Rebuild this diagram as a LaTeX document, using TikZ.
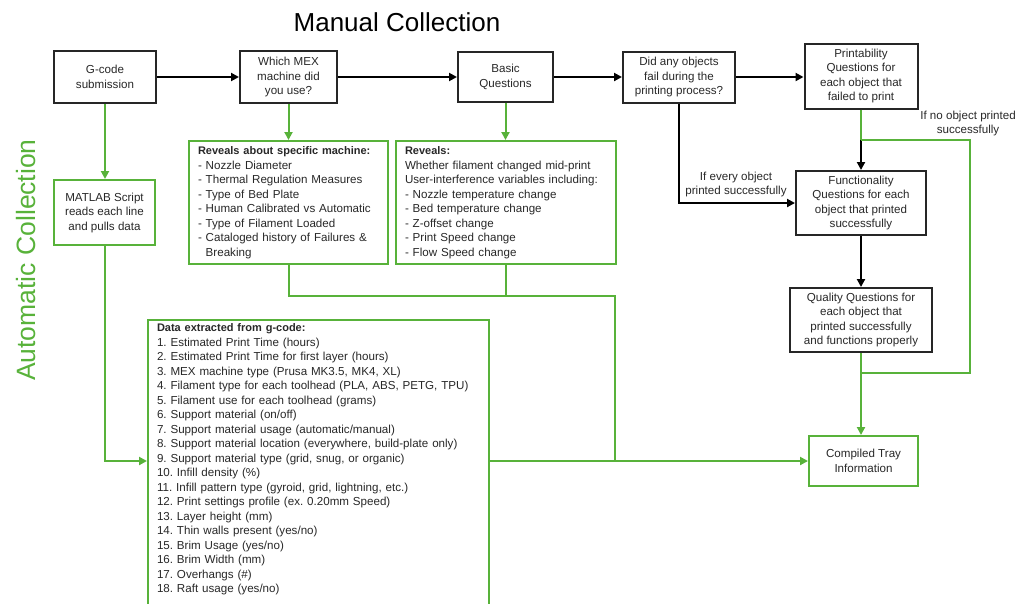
\documentclass[tikz,border=0pt]{standalone}
\usepackage{fontspec}
\setmainfont{Liberation Sans}
\usetikzlibrary{arrows.meta,calc}
\definecolor{grn}{RGB}{88,178,58}
\definecolor{txt}{RGB}{40,40,40}
\frenchspacing
\newcommand{\hdr}[1]{\mbox{\fontsize{11}{14.5}\selectfont\bfseries #1}}
\begin{document}
\begin{tikzpicture}[x=1pt,y=-1pt,
  font=\fontsize{11.6}{14.5}\selectfont,
  bbox/.style={draw=black!85, line width=2pt, fill=white, text=txt, align=center, inner sep=0pt},
  gbox/.style={draw=grn, line width=2pt, fill=white, text=txt, align=center, inner sep=0pt},
  lbox/.style={draw=grn, line width=2pt, fill=white, text=txt, align=left, inner xsep=9pt, inner ysep=5pt},
  blk/.style={draw=black, line width=2pt, -{Triangle[length=8pt,width=8pt]}},
  gln/.style={draw=grn, line width=2pt},
  garr/.style={gln, -{Triangle[length=8pt,width=8pt]}},
  lbl/.style={text=txt, align=center, inner sep=0pt}]
\useasboundingbox (0,0) rectangle (1024,603);
\clip (0,0) rectangle (1024,603);

% titles
\node[font=\fontsize{26}{30}\selectfont, inner sep=0pt] (title) at (397,22) {Manual Collection};
\node[font=\fontsize{26.5}{30}\selectfont, text=grn, rotate=90, inner sep=0pt] (auto) at (26,260) {Automatic Collection};

% manual row
\node[bbox, minimum width=102pt, minimum height=52pt] (gcode) at (105,77) {G-code\\submission};
\node[bbox, minimum width=97pt, minimum height=52pt] (mex) at (288.5,77) {Which MEX\\machine did\\you use?};
\node[bbox, minimum width=95pt, minimum height=50pt] (basic) at (505.5,77) {Basic\\Questions};
\node[bbox, minimum width=112pt, minimum height=51pt] (fail) at (679,77) {Did any objects\\fail during the\\printing process?};
\node[bbox, minimum width=113pt, minimum height=65pt] (print) at (861,76) {Printability\\Questions for\\each object that\\failed to print};
\node[bbox, minimum width=130pt, minimum height=64pt] (func) at (861,203) {Functionality\\Questions for each\\object that printed\\successfully};
\node[bbox, minimum width=142pt, minimum height=64pt] (qual) at (861,320) {Quality Questions for\\each object that\\printed successfully\\and functions properly};
\node[gbox, minimum width=109pt, minimum height=50pt] (tray) at (863.5,461) {Compiled Tray\\Information};

% automatic
\node[gbox, minimum width=101pt, minimum height=65pt] (matlab) at (104.5,212.5) {MATLAB Script\\reads each line\\and pulls data};

\node[lbox, text width=181pt, minimum height=123pt] (revm) at (288.5,202.5) {\hdr{Reveals about specific machine:}\\- Nozzle Diameter\\- Thermal Regulation Measures\\- Type of Bed Plate\\- Human Calibrated vs Automatic\\- Type of Filament Loaded\\- Cataloged history of Failures \&\\\phantom{- }Breaking};

\node[lbox, text width=202pt, minimum height=123pt] (rev) at (506,202.5) {\hdr{Reveals:}\\Whether filament changed mid-print\\User-interference variables including:\\- Nozzle temperature change\\- Bed temperature change\\- Z-offset change\\- Print Speed change\\- Flow Speed change};

\node[lbox, text width=323pt, inner ysep=4pt, anchor=north] (data) at (318.5,319) {\hdr{Data extracted from g-code:}\\
1. Estimated Print Time (hours)\\
2. Estimated Print Time for first layer (hours)\\
3. MEX machine type (Prusa MK3.5, MK4, XL)\\
4. Filament type for each toolhead (PLA, ABS, PETG, TPU)\\
5. Filament use for each toolhead (grams)\\
6. Support material (on/off)\\
7. Support material usage (automatic/manual)\\
8. Support material location (everywhere, build-plate only)\\
9. Support material type (grid, snug, or organic)\\
10. Infill density (\%)\\
11. Infill pattern type (gyroid, grid, lightning, etc.)\\
12. Print settings profile (ex. 0.20mm Speed)\\
13. Layer height (mm)\\
14. Thin walls present (yes/no)\\
15. Brim Usage (yes/no)\\
16. Brim Width (mm)\\
17. Overhangs (\#)\\
18. Raft usage (yes/no)\rule[-16pt]{0pt}{16pt}};

% labels
\node[lbl] (l1) at (736,184.5) {If every object\\printed successfully};
\node[lbl] (l2) at (968,123.5) {If no object printed\\successfully};

% coordinates
\coordinate (j1) at (861,140);
\coordinate (r1) at (970,140);
\coordinate (r2) at (970,373);
\coordinate (j2) at (861,373);
\coordinate (m1) at (615,296);
\coordinate (m2) at (615,461);

% black connectors
\draw[blk] (gcode) -- (mex);
\draw[blk] (mex) -- (basic);
\draw[blk] (basic) -- (fail);
\draw[blk] (fail.east) -- (fail.east -| print.west);
\draw[blk] (fail.south) |- (func.west);
\draw[gln] (print.south) -- (j1);
\draw[blk] (j1) -- (func.north);
\draw[blk] (func) -- (qual);
\draw[gln] (j1) -- (r1) -- (r2) -- (j2);
\draw[garr] (qual.south) -- (qual.south |- tray.north);

% green connectors
\draw[garr] (gcode.south) -- (gcode.south |- matlab.north);
\draw[garr] (matlab.south) |- ($(data.north west)+(0,142)$);
\draw[garr] (mex.south) -- (revm.north);
\draw[garr] (basic.south) -- (basic.south |- rev.north);
\draw[gln] (revm.south) |- (m1) -- (m2);
\draw[gln] (rev.south) -- (rev.south |- m1);
\draw[garr] (data.east |- tray.west) -- (tray.west);
\end{tikzpicture}
\end{document}
